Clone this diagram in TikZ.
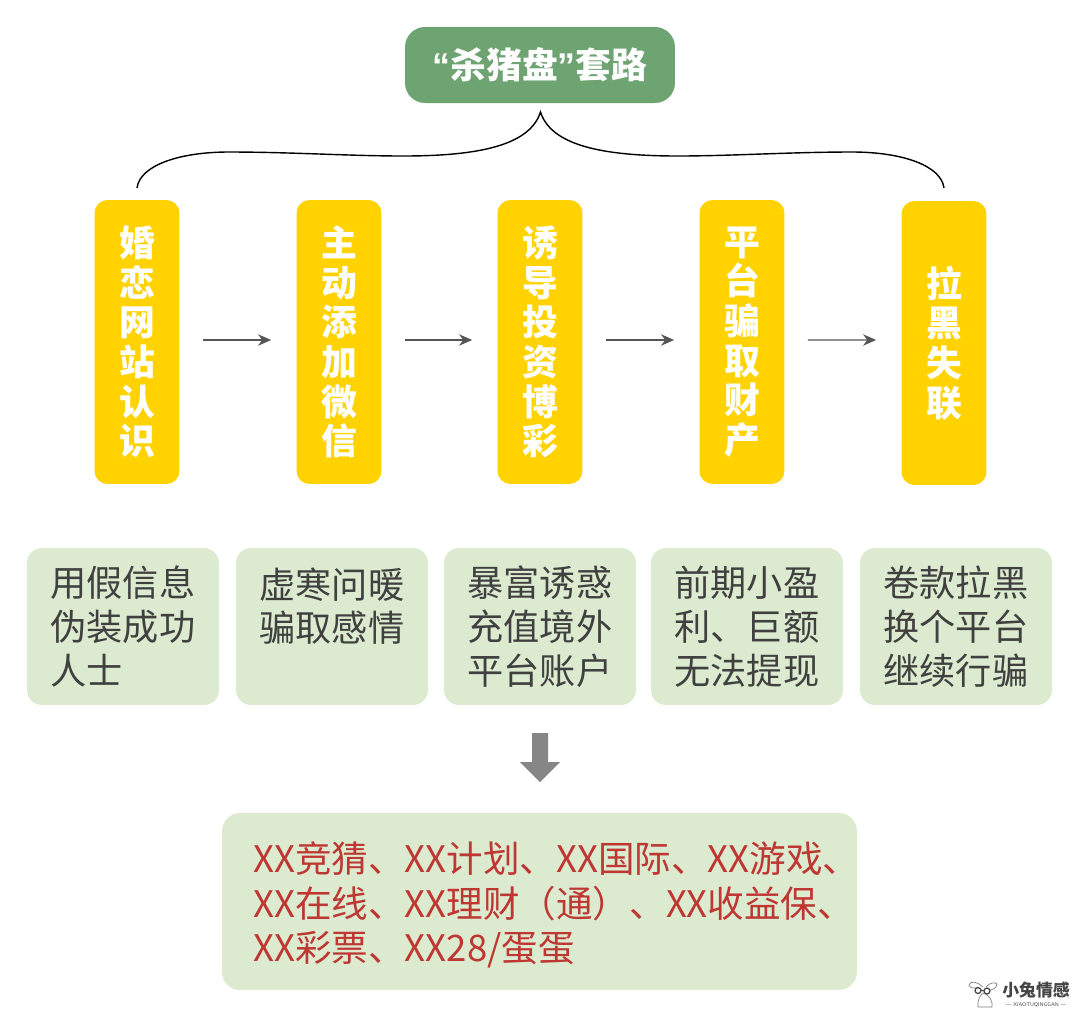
\documentclass[tikz,border=0pt]{standalone}
\usepackage{fontspec}
\usepackage{xcolor}
\usepackage{tikz}
\usetikzlibrary{arrows.meta}
\setmainfont{Liberation Sans}
\newfontfamily\cjk{Noto Sans CJK SC}
\definecolor{titlegreen}{RGB}{110,163,114}
\definecolor{stepyellow}{RGB}{255,210,0}
\definecolor{panelgreen}{RGB}{220,235,208}
\definecolor{platformred}{RGB}{190,55,50}
\definecolor{arrowgray}{RGB}{85,85,85}
\definecolor{markgray}{RGB}{70,70,70}
\tikzset{
  stepbox/.style={fill=stepyellow,rounded corners=0.26cm,minimum width=1.7cm,minimum height=5.68cm,inner sep=0pt,align=center,text=white,font=\cjk\bfseries\fontsize{20.4}{22.6}\selectfont},
  detailbox/.style={fill=panelgreen,rounded corners=0.3cm,minimum width=3.84cm,minimum height=3.14cm,inner sep=0pt,text width=2.9cm,align=left,text=black!75,font=\cjk\fontsize{20.6}{24.9}\selectfont},
  flowarrow/.style={draw=arrowgray,line width=0.7pt,-{Stealth[length=7.5pt,width=6.5pt]},shorten <=0.46cm,shorten >=0.5cm},
}
\begin{document}
\begin{tikzpicture}[x=0.02cm,y=-0.02cm]
\useasboundingbox (0,0) rectangle (1080,1019);
% Title
\node[fill=titlegreen,rounded corners=0.4cm,minimum width=5.4cm,minimum height=1.52cm,text=white,font=\cjk\bfseries\fontsize{20.4}{24}\selectfont] (title) at (540,65) {{\normalfont\bfseries “}杀猪盘{\normalfont\bfseries ”}套路};
\coordinate (bracetop) at (540.5,112);
\coordinate (braceleft) at (137,188);
\coordinate (braceright) at (944,188);
\draw[line width=0.8pt] (braceleft) .. controls (140,165) and (180,152) .. (229,152)
  .. controls (290,152) and (350,156) .. (403,156)
  .. controls (480,156) and (530,145) .. (bracetop)
  .. controls (551,145) and (601,156) .. (678,156)
  .. controls (731,156) and (791,152) .. (852,152)
  .. controls (901,152) and (941,165) .. (braceright);
% Steps
\node[stepbox] (website) at (137,342) {婚\\恋\\网\\站\\认\\识};
\node[stepbox] (wechat) at (339,342) {主\\动\\添\\加\\微\\信};
\node[stepbox] (invest) at (540,342) {诱\\导\\投\\资\\博\\彩};
\node[stepbox] (platform) at (742,342) {平\\台\\骗\\取\\财\\产};
\node[stepbox] (blacklist) at (944,343) {拉\\黑\\失\\联};
\draw[flowarrow] ([yshift=0.04cm]website.east) -- ([yshift=0.04cm]wechat.west);
\draw[flowarrow] ([yshift=0.04cm]wechat.east) -- ([yshift=0.04cm]invest.west);
\draw[flowarrow] ([yshift=0.04cm]invest.east) -- ([yshift=0.04cm]platform.west);
\draw[flowarrow] ([yshift=0.04cm]platform.east) -- ([yshift=0.06cm]blacklist.west);
% Details
\node[detailbox] (fakeinfo) at (123,626.5) {用假信息\\伪装成功\\人士};
\node[detailbox] (romance) at (332,626.5) {虚寒问暖\\骗取感情\\~};
\node[detailbox] (temptation) at (540,626.5) {暴富诱惑\\充值境外\\平台账户};
\node[detailbox] (smallgain) at (747,626.5) {前期小盈\\利、巨额\\无法提现};
\node[detailbox] (runaway) at (956,626.5) {卷款拉黑\\换个平台\\继续行骗};
\fill[gray!95] (532,733) -- (548,733) -- (548,762) -- (560,762) -- (540,782) -- (520,762) -- (532,762) -- cycle;
% Platforms
\node[fill=panelgreen,rounded corners=0.36cm,minimum width=12.7cm,minimum height=3.54cm] (platforms) at (539.5,901.5) {};
\node[anchor=west,inner sep=0pt,align=left,text=platformred,font=\fontsize{20.8}{25.2}\selectfont\cjk] (platformnames) at (253,905) {XX竞猜、XX计划、XX国际、XX游戏、\\XX在线、XX理财（通）、XX收益保、\\XX彩票、XX28/蛋蛋};
% Watermark
\node[anchor=west,inner sep=0pt,text=markgray,font=\cjk\bfseries\fontsize{9.6}{10}\selectfont] (markname) at (1002,990) {小兔情感};
\node[inner sep=0pt,text=markgray,font=\sffamily\fontsize{3}{4}\selectfont] (markpinyin) at (1036,1005) {— XIAOTUQINGGAN —};
\draw[gray,line width=0.4pt] (978,1007) .. controls (977,1000) and (980,996) .. (983,993)
  .. controls (990,995) and (993,1002) .. (992,1007) -- cycle;
\draw[gray,line width=0.4pt] (983,987) .. controls (978,982) and (971,980) .. (969,985) .. controls (970,989) and (975,988) .. (979,988);
\draw[gray,line width=0.4pt] (986,987) .. controls (990,982) and (996,982) .. (997,984) .. controls (996,989) and (992,990) .. (989,990);
\draw[markgray,line width=0.7pt] (978,990.5) circle (3) (987,991) circle (3) (981,990.5) -- (984,990.5);
\end{tikzpicture}
\end{document}
